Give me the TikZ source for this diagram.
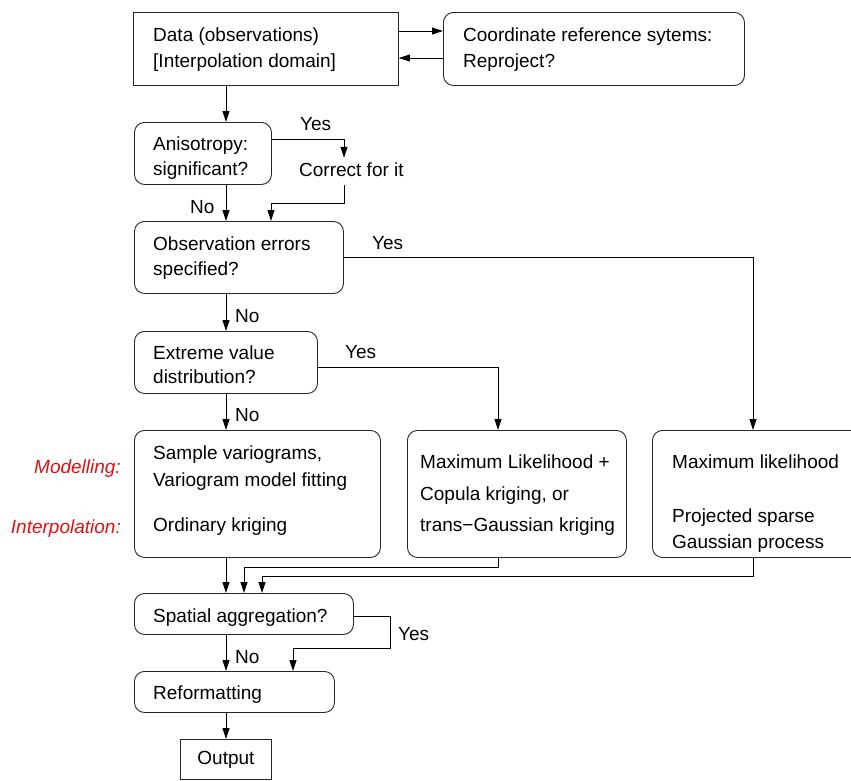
\documentclass[tikz,border=0pt]{standalone}
\usepackage{fontspec}
\setmainfont{Liberation Sans}
\usetikzlibrary{arrows.meta,calc}
\definecolor{lblred}{RGB}{221,17,17}
\newcommand{\dfs}{\fontsize{19}{23}\selectfont}
\tikzset{
 rbox/.style={draw=black!85, line width=0.9pt, rounded corners=10pt, anchor=north west, inner sep=0pt},
 sbox/.style={draw=black!85, line width=0.9pt, anchor=north west, inner sep=0pt},
 txt/.style={anchor=base west, inner sep=0pt, font=\dfs},
 rtxt/.style={anchor=base east, inner sep=0pt, font=\dfs\itshape, text=lblred},
 arr/.style={line width=0.8pt, -{Triangle[length=11pt,width=7pt]}},
 ln/.style={line width=0.8pt},
}
\begin{document}
\begin{tikzpicture}[x=1pt,y=-1pt]
\useasboundingbox (0,0) rectangle (851,780);
\clip (0,0) rectangle (851,780);
% columns and rows
\coordinate (colM) at (226,0);
\coordinate (colA) at (344,0);
\coordinate (colB) at (271,0);
\coordinate (colE) at (498,0);
\coordinate (colO) at (753,0);
\coordinate (colF) at (244,0);
\coordinate (colG) at (262,0);
\coordinate (colH) at (293,0);
\coordinate (rowA) at (0,31);
\coordinate (rowB) at (0,58);
% boxes
\node[sbox, minimum width=265pt, minimum height=73pt] (data) at (133,12) {};
\node[rbox, minimum width=301pt, minimum height=73pt] (crs) at (443,12) {};
\node[rbox, minimum width=137pt, minimum height=62pt] (aniso) at (134,122) {};
\node[rbox, minimum width=209pt, minimum height=72pt] (obs) at (134,221) {};
\node[rbox, minimum width=183pt, minimum height=62pt] (ext) at (134,331) {};
\node[rbox, minimum width=246pt, minimum height=127pt] (b1) at (134,430) {};
\node[rbox, minimum width=219pt, minimum height=127pt] (b2) at (407,430) {};
\node[rbox, minimum width=215pt, minimum height=127pt] (b3) at (652,430) {};
\node[rbox, minimum width=219pt, minimum height=41pt] (spat) at (134,593) {};
\node[rbox, minimum width=200pt, minimum height=41pt] (ref) at (134,671) {};
\node[sbox, minimum width=91pt, minimum height=40pt, font=\dfs] (out) at (180,739) {\raisebox{-5pt}{Output}};
% texts
\node[txt] (t1a) at (153,41) {Data (observations)};
\node[txt] (t1b) at (153,67) {[Interpolation domain]};
\node[txt] (t2a) at (463,41) {Coordinate reference sytems:};
\node[txt] (t2b) at (463,67) {Reproject?};
\node[txt] (t3a) at (153,150) {Anisotropy:};
\node[txt] (t3b) at (153,175) {significant?};
\node[txt] (y1) at (300,130) {Yes};
\node[txt, text height=14pt, text depth=5pt, inner ysep=4pt] (corr) at (299,176) {Correct for it};
\node[txt] (n1) at (190,213) {No};
\node[txt] (t4a) at (153,250) {Observation errors};
\node[txt] (t4b) at (153,275) {specified?};
\node[txt] (y2) at (372,249) {Yes};
\node[txt] (n2) at (235,322) {No};
\node[txt] (t5a) at (153,359) {Extreme value};
\node[txt] (t5b) at (153,383) {distribution?};
\node[txt] (y3) at (345,358) {Yes};
\node[txt] (n3) at (235,421) {No};
\node[txt] (t6a) at (153,459) {Sample variograms,};
\node[txt] (t6b) at (153,486) {Variogram model fitting};
\node[txt] (t6c) at (153,531) {Ordinary kriging};
\node[rtxt] (lm) at (121,473) {Modelling:};
\node[rtxt] (li) at (121,533) {Interpolation:};
\node[txt] (t7a) at (420,468) {Maximum Likelihood +};
\node[txt] (t7b) at (420,500) {Copula kriging, or};
\node[txt] (t7c) at (420,531) {trans−Gaussian kriging};
\node[txt] (t8a) at (672,468) {Maximum likelihood};
\node[txt] (t8b) at (672,522) {Projected sparse};
\node[txt] (t8c) at (672,548) {Gaussian process};
\node[txt] (t9) at (153,622) {Spatial aggregation?};
\node[txt] (y4) at (398,640) {Yes};
\node[txt] (n4) at (235,663) {No};
\node[txt] (t10) at (153,699) {Reformatting};
% connectors
\draw[arr] (data.east |- rowA) -- (crs.west |- rowA);
\draw[arr] (crs.west |- rowB) -- (data.east |- rowB);
\draw[arr] (data.south -| colM) -- (aniso.north -| colM);
\draw[arr] ([yshift=14pt]aniso.east) -| (corr.north -| colA);
\draw[arr] (corr.south -| colA) -- ++(0,18) -| (obs.north -| colB);
\draw[arr] (aniso.south -| colM) -- (obs.north -| colM);
\draw[arr] (obs.east) -| (b3.north -| colO);
\draw[arr] (obs.south -| colM) -- (ext.north -| colM);
\draw[arr] ([yshift=-5pt]ext.east) -| (b2.north -| colE);
\draw[arr] (ext.south -| colM) -- (b1.north -| colM);
\draw[arr] (b1.south -| colM) -- (spat.north -| colM);
\draw[arr] (b2.south -| colE) -- ++(0,9) -| (spat.north -| colF);
\draw[arr] (b3.south -| colO) -- ++(0,18) -| (spat.north -| colG);
\draw[arr] (spat.south -| colM) -- (ref.north -| colM);
\draw[arr] ([yshift=-2.5pt]spat.east) -- ++(36,0) -- ++(0,32) -| (ref.north -| colH);
\draw[arr] (ref.south -| colM) -- (out.north -| colM);
\end{tikzpicture}
\end{document}
